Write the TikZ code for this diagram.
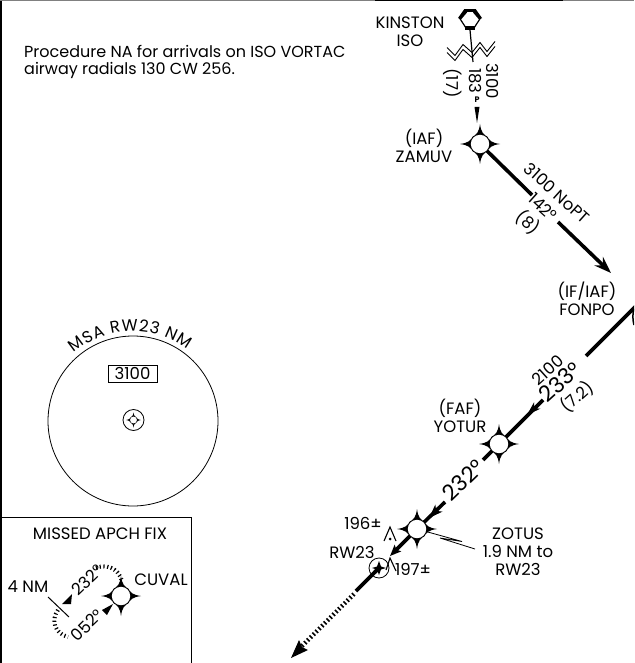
\documentclass[tikz,border=0pt]{standalone}
\usepackage{fontspec}
\setmainfont{Poppins}
\usetikzlibrary{arrows.meta,decorations.text}
\tikzset{
  x=1pt,y=-1pt,
  lbl/.style={inner sep=0pt,align=center,text=black,font=\fontsize{16.5}{18}\selectfont},
  big/.style={inner sep=0pt,text=black,font=\fontsize{22}{24}\selectfont},
  track/.style={line width=3.6pt,draw=black},
  ticks/.style={line width=4pt,dash pattern=on 1.2pt off 2.6pt,draw=black},
  bigticks/.style={line width=4.5pt,dash pattern=on 1.6pt off 2.4pt,draw=black},
  fixstar/.pic={
    \fill[black] (#1,0) .. controls (0.55*#1,0.06*#1) and (0.45*#1,0.2*#1) .. (0.37*#1,0.37*#1)
      .. controls (0.2*#1,0.45*#1) and (0.06*#1,0.55*#1) .. (0,#1)
      .. controls (-0.06*#1,0.55*#1) and (-0.2*#1,0.45*#1) .. (-0.37*#1,0.37*#1)
      .. controls (-0.45*#1,0.2*#1) and (-0.55*#1,0.06*#1) .. (-#1,0)
      .. controls (-0.55*#1,-0.06*#1) and (-0.45*#1,-0.2*#1) .. (-0.37*#1,-0.37*#1)
      .. controls (-0.2*#1,-0.45*#1) and (-0.06*#1,-0.55*#1) .. (0,-#1)
      .. controls (0.06*#1,-0.55*#1) and (0.2*#1,-0.45*#1) .. (0.37*#1,-0.37*#1)
      .. controls (0.45*#1,-0.2*#1) and (0.55*#1,-0.06*#1) .. (#1,0) -- cycle;
    \fill[white] (0,0) circle (0.46*#1);
  },
}
\begin{document}
\begin{tikzpicture}
\useasboundingbox (0,0) rectangle (634,663);
\clip (0,0) rectangle (634,663);
% named fixes
\coordinate (zamuv) at (480,144);
\coordinate (fonpo) at (645,297);
\coordinate (yotur) at (499,444);
\coordinate (zotus) at (417,529);
\coordinate (rw) at (379,568);
\coordinate (cuval) at (121,596);
\coordinate (msac) at (133,421);
% frame
\draw[line width=2pt] (1,0) -- (1,663);
\draw[line width=0.5pt,draw=black!50] (0,0.2) -- (634,0.2);
\draw[line width=3pt] (375,0) -- (563,0);
\draw[line width=1pt] (2,517.5) -- (191.5,517.5) -- (191.5,663);
% text note
\node[lbl,anchor=west,align=left,font=\fontsize{16}{16.5}\selectfont] (note) at (24,62)
  {Procedure NA for arrivals on ISO VORTAC\\airway radials 130 CW 256.};
% Kinston
\node[lbl] (kinl) at (410,32) {KINSTON\\ISO};
\draw[line width=1.2pt,fill=white] (459.5,18) -- (464.5,11) -- (475.5,11) -- (480.5,18) -- (474,28) -- (466,28) -- cycle;
\fill (458,18) -- (464,9.5) -- (467,12.5) -- (461,19.5) -- cycle;
\fill (482,18) -- (476,9.5) -- (473,12.5) -- (479,19.5) -- cycle;
\fill (464,9.5) rectangle (476,12);
\fill (465,26) rectangle (475,30);
\coordinate (kinb) at (470,30);
\coordinate (kinc) at (473,62);
\draw[line width=1.2pt] (kinb) -- (kinc);
\foreach \d in {-2.5,2.5}
  \draw[line width=0.9pt] (447,50+\d) -- (455,58+\d) -- (463,47+\d) -- (472,55+\d) -- (480,45+\d) -- (487,54+\d) -- (495,44+\d);
\node[lbl,rotate=-90] (r3100) at (493,81) {3100};
\node[lbl,rotate=-90] (r183) at (475,81) {183};
\node[inner sep=0pt,font=\fontsize{8}{8}\selectfont\bfseries] (rp) at (477,100) {P};
\node[lbl,rotate=-90] (r17) at (453,83) {(17)};
\fill (474.5,107) -- (479.5,107) -- (477,123) -- cycle;
% track zamuv to fonpo
\coordinate (a1) at (532,195);
\coordinate (a2) at (558,222);
\coordinate (a3) at (611,273);
\draw[track] (zamuv) -- (a1);
\draw[track,-{Stealth[length=17pt,width=12pt,inset=6pt]}] (a2) -- (a3);
\node[lbl,rotate=-42] (t1) at (557,193) {3100 NoPT};
\node[lbl,rotate=-42] (t2) at (543,207) {142°};
\node[lbl,rotate=-42] (t3) at (528,222) {(8)};
\node[lbl] (fonl) at (587,299) {(IF/IAF)\\FONPO};
\node[lbl] (zaml) at (424,146) {(IAF)\\ZAMUV};
% fonpo to yotur
\coordinate (b1) at (586,356);
\coordinate (b2) at (543,400);
\coordinate (b3) at (527,415);
\draw[track] (fonpo) -- (b1);
\draw[track] (b2) -- (yotur);
\draw[line width=1pt,-{Stealth[length=14pt,width=9pt,inset=4pt]}] (b2) -- (b3);
\node[lbl,rotate=42] (t4) at (548,370) {2100};
\node[big,rotate=42] (t5) at (560,382) {233°};
\node[lbl,rotate=42] (t6) at (577,397) {(7.2)};
\node[lbl] (yotl) at (460,416) {(FAF)\\YOTUR};
% yotur to zotus
\coordinate (c1) at (483,460);
\coordinate (c2) at (445,502);
\coordinate (c3) at (429,518);
\draw[track] (yotur) -- (c1);
\draw[track] (c2) -- (zotus);
\draw[line width=1pt,-{Stealth[length=14pt,width=10pt,inset=4pt]}] (c2) -- (c3);
\node[big,rotate=44] (t7) at (463,480) {232°};
% zotus to rw
\coordinate (d1) at (390,556);
\draw[line width=3.6pt,-{Stealth[length=11pt,width=9pt,inset=2pt]}] (zotus) -- (d1);
\draw[line width=3.6pt] (rw) -- (356,591);
\coordinate (d2) at (354,594);
\coordinate (d3) at (302,646);
\coordinate (d4) at (291,658);
\draw[bigticks] (d2) -- (d3);
\fill (d4) -- (308,650) -- (302,647) -- (299,640) -- cycle;
% leader
\coordinate (e1) at (462,541.5);
\coordinate (e2) at (440,538);
\coordinate (e3) at (475,549);
\draw[line width=0.8pt] (zotus) -- (e1) -- (e2) -- (e3);
\node[lbl] (zotl) at (518,552) {ZOTUS\\1.9 NM to\\RW23};
\node[lbl] (l196) at (363,523) {196±};
\node[lbl] (l197) at (413,569) {197±};
\node[lbl] (lrw) at (352,552) {RW23};
% obstacles
\draw[line width=1.1pt] (384,541) -- (390,527) -- (396,541);
\fill (390,539) circle (1.5);
\draw[line width=1.1pt] (386,570) -- (390,558) -- (396,571);
% fixes
\pic at (zamuv) {fixstar=20};
\pic at (yotur) {fixstar=20};
\pic at (zotus) {fixstar=20};
\draw[line width=1.5pt] (634,309) .. controls (632.5,313) and (632.5,320) .. (634,325);
\draw[line width=0.8pt] (rw) circle (10);
\fill[black] (rw) ++(7,0) -- ++(-5,-1.5) -- ++(-2,-5.5) -- ++(-2,5.5) -- ++(-5,1.5) -- ++(5,1.5) -- ++(2,5.5) -- ++(2,-5.5) -- cycle;
\draw[line width=3.6pt] (rw) -- ++(-4,4);
% MSA
\draw[line width=0.8pt] (msac) circle (85);
\path[postaction={decorate,decoration={text along path,text align={fit to path},
   text={|\fontsize{16.5}{18}\selectfont|MSA RW23 NM}}}]
   (msac) ++(-131:90) arc[start angle=-131,end angle=-53,radius=90];
\node[draw,line width=0.9pt,minimum width=49pt,minimum height=17pt,inner sep=0pt,lbl] (msab) at (132.5,373.5) {3100};
\draw[line width=0.8pt] (133.5,420) circle (10.5);
\pic at (133.5,420) {fixstar=7.5};
% Missed box
\node[lbl] (mtitle) at (100,534) {MISSED APCH FIX};
\node[lbl] (m4) at (28,587) {4 NM};
\node[lbl] (mcuv) at (161,580) {CUVAL};
\node[lbl,rotate=44] (m232) at (87,580) {232°};
\node[lbl,rotate=44] (m052) at (87,625) {052°};
\coordinate (f1) at (48,597);
\coordinate (f2) at (69,617);
\draw[line width=1pt] (f1) -- (f2);
\fill (72,594) -- (71,604) -- (62,604) -- cycle;
\fill (113,604) -- (107,615) -- (102,610) -- cycle;
\draw[ticks] (96,568) .. controls (105,564) and (118,567) .. (122,581);
\draw[ticks] (58,610) .. controls (51,620) and (54,633) .. (68,637);
\pic at (cuval) {fixstar=20};
\end{tikzpicture}
\end{document}
